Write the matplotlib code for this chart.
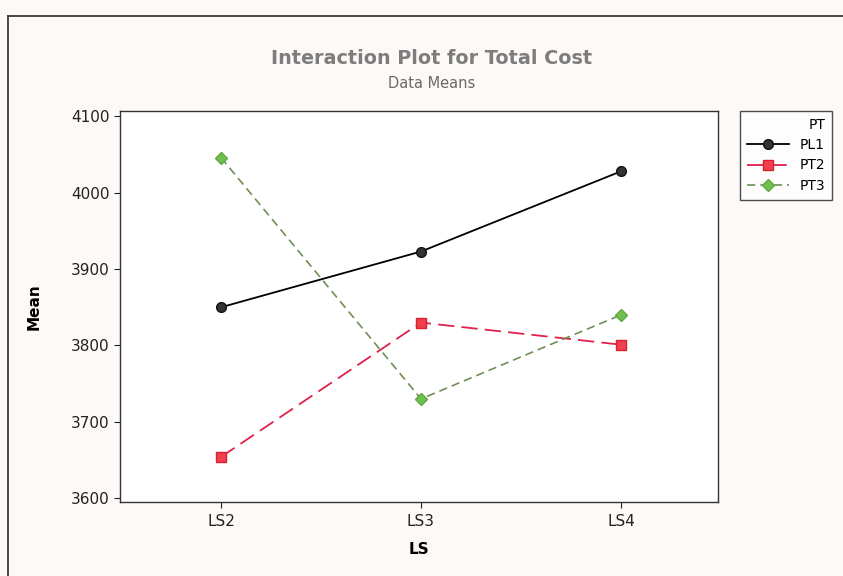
import matplotlib
matplotlib.use("Agg")
import matplotlib.pyplot as plt
from matplotlib.lines import Line2D

# Datos (medias)
levels = ["LS2", "LS3", "LS4"]
series_names = ["PL1", "PT2", "PT3"]
pl1 = [3850, 3923, 4028]
pt2 = [3654, 3830, 3801]
pt3 = [4046, 3730, 3840]
y_ticks = [3600, 3700, 3800, 3900, 4000, 4100]

W, H = 843, 576
fig = plt.figure(figsize=(W / 100, H / 100), dpi=100)
fig.patch.set_facecolor("#fcf9f7")

# marco exterior (solo arriba e izquierda visibles)
fig.add_artist(Line2D([8 / W, 8 / W], [0, 1 - 16 / H], transform=fig.transFigure,
                      color="#3a3a3a", lw=1.3))
fig.add_artist(Line2D([8 / W, 1], [1 - 16 / H, 1 - 16 / H], transform=fig.transFigure,
                      color="#3a3a3a", lw=1.3))

ax = fig.add_axes([120 / W, 1 - 502 / H, 598 / W, 391 / H])
ax.set_facecolor("white")
x = list(range(1, len(levels) + 1))

ax.plot(x, pl1, color="black", lw=1.3, ls="-", marker="o", ms=7,
        mfc="#333333", mec="#111111", label=series_names[0])
ax.plot(x, pt2, color="#e0204a", lw=1.3, ls=(0, (9, 4)), marker="s", ms=7,
        mfc="#f04050", mec="#d82030", label=series_names[1])
ax.plot(x, pt3, color="#6f8f55", lw=1.2, ls=(0, (5, 3)), marker="D", ms=6,
        mfc="#70c050", mec="#60a840", label=series_names[2])

ax.set_xlim(0.495, 3.485)
ax.set_ylim(3595, 4107)
ax.set_xticks(x)
ax.set_xticklabels(levels)
ax.set_yticks(y_ticks)
ax.tick_params(direction="out", length=4, width=0.8, labelsize=11, colors="#222222")
ax.tick_params(axis="x", pad=5)
ax.tick_params(top=False, right=False)
for s in ax.spines.values():
    s.set_color("#333333")
    s.set_linewidth(1.0)

ax.set_ylabel("Mean", fontsize=11, fontweight="bold", labelpad=21)
ax.set_xlabel("LS", fontsize=11, fontweight="bold", labelpad=9)

fig.text(432 / W, 1 - 58 / H, "Interaction Plot for Total Cost", ha="center", va="center",
         fontsize=13.8, fontweight="bold", color="#7d7d7d")
fig.text(432 / W, 1 - 83 / H, "Data Means", ha="center", va="center",
         fontsize=10.5, color="#6a6a6a")

leg = fig.legend(loc="upper left", bbox_to_anchor=(740 / W, 1 - 111 / H), title="PT",
                 fontsize=10, title_fontsize=10, frameon=True, fancybox=False,
                 edgecolor="#222222", handlelength=3.0, borderpad=0.5,
                 labelspacing=0.45, borderaxespad=0, alignment="right")
leg.get_frame().set_linewidth(1.0)

fig.savefig("out.png", dpi=100, facecolor=fig.get_facecolor())
